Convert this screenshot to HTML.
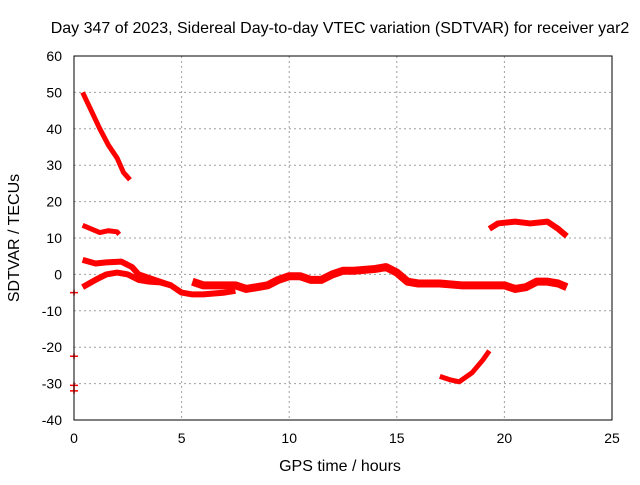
<!DOCTYPE html>
<html><head><meta charset="utf-8"><style>
body{margin:0;background:#fff}
svg text{font-family:"Liberation Sans",sans-serif;font-size:14px;fill:#000}
svg text.big{font-size:16px}
</style></head><body>
<svg id="chart" width="640" height="480">
<text class="big" x="340" y="33" text-anchor="middle">Day 347 of 2023, Sidereal Day-to-day VTEC variation (SDTVAR) for receiver yar2</text>
<text class="big" x="340" y="471" text-anchor="middle">GPS time / hours</text>
<text class="big" transform="translate(19,238) rotate(-90)" text-anchor="middle">SDTVAR / TECUs</text>
<g id="grid"></g><g id="axes"></g><g id="series"></g>
<rect x="74" y="56" width="538" height="364" fill="none" stroke="#000" stroke-width="1"/>
</svg>
<script>
const xTicks=[0,5,10,15,20,25];
const yTicks=[60,50,40,30,20,10,0,-10,-20,-30,-40];
const arcA=[[0.4,50],[0.8,45],[1.2,40],[1.6,35.5],[2,32],[2.3,28],[2.6,26]];
const arcB=[[0.4,13.5],[0.8,12.5],[1.2,11.5],[1.6,12],[2,11.7],[2.1,11]];
const arcC=[[0.4,4],[1,3],[1.5,3.3],[2.2,3.5],[2.7,2],[3,0],[3.5,-1],[4,-2],[4.5,-3],[5,-5],[5.5,-5.5],[6,-5.5],[7,-5],[7.5,-4.5]];
const arcD=[[0.4,-3.5],[1,-1.5],[1.5,0],[2,0.5],[2.5,0],[3,-1.5],[3.5,-2],[4,-2.2],[4.5,-3]];
const arcMain=[[5.5,-2],[6,-3],[7,-3],[7.5,-3],[8,-4],[9,-3],[9.5,-1.5],[10,-0.5],[10.5,-0.5],[11,-1.5],[11.5,-1.5],[12,0],[12.5,1],[13,1],[14,1.5],[14.5,2],[15,0.5],[15.5,-2],[16,-2.5],[17,-2.5],[18,-3],[19,-3],[20,-3],[20.5,-4],[21,-3.5],[21.5,-2],[22,-2],[22.5,-2.5],[22.9,-3.5]];
const arcE=[[19.3,12.5],[19.7,14],[20.5,14.5],[21.2,14],[22,14.5],[22.5,12.5],[22.9,10.5]];
const arcF=[[17,-28],[17.5,-29],[17.9,-29.5],[18.5,-27],[19,-23.5],[19.3,-21]];
const points=[[0,-5],[0,-22.5],[0,-30.5],[0,-32]];
const NS="http://www.w3.org/2000/svg";
const X=h=>74+h*538/25, Y=v=>56+(60-v)*364/100;
function mk(t,a,p){const e=document.createElementNS(NS,t);for(const k in a)e.setAttribute(k,a[k]);p.appendChild(e);return e;}
const grid=document.getElementById('grid'),axes=document.getElementById('axes'),ser=document.getElementById('series');
xTicks.forEach(t=>{
 if(t>0&&t<25){const l=mk('line',{x1:X(t),x2:X(t),y1:56,y2:420,stroke:'#a0a0a0','stroke-dasharray':'2,3'},grid);
 
 }
 const tx=mk('text',{x:X(t),y:443,'text-anchor':'middle'},axes);tx.textContent=t;
 
 
});
yTicks.forEach(t=>{
 if(t<60&&t>-40){const l=mk('line',{x1:74,x2:612,y1:Y(t),y2:Y(t),stroke:'#a0a0a0','stroke-dasharray':'2,3'},grid);
 
 }
 const tx=mk('text',{x:62,y:Y(t)+5,'text-anchor':'end'},axes);tx.textContent=t;
 
 
});
[[arcA,5],[arcB,5],[arcC,6],[arcD,6],[arcMain,8],[arcE,6],[arcF,5]].forEach(([a,w])=>{
 const p=mk('polyline',{points:a.map(d=>X(d[0])+','+Y(d[1])).join(' '),fill:'none',stroke:'#ff0000','stroke-width':w,'stroke-linejoin':'round'},ser);
 
 
});
points.forEach(d=>{
 const g=mk('path',{d:`M${X(d[0])-4},${Y(d[1])}h8M${X(d[0])},${Y(d[1])-3}v6`,stroke:'#ff0000','stroke-width':1.5},ser);
 
 
});
</script>
</body></html>
